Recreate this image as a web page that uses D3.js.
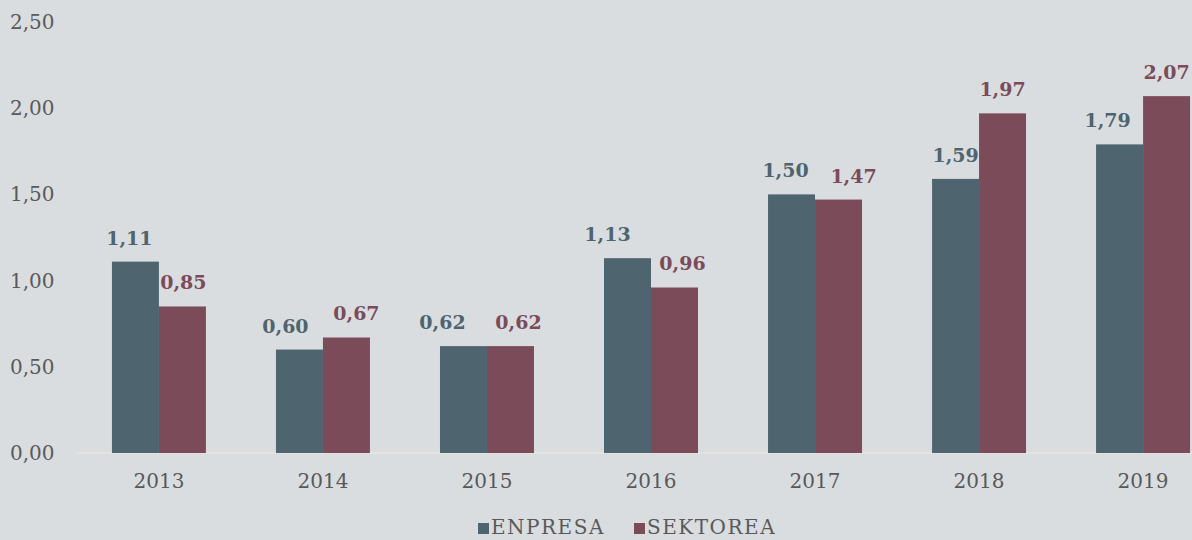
<!DOCTYPE html>
<html>
<head>
<meta charset="utf-8">
<script src="https://cdn.jsdelivr.net/npm/d3@7"></script>
<style>
  html, body { margin: 0; padding: 0; background: #dadde0; }
  svg { display: block; font-family: "DejaVu Serif", serif; }
</style>
</head>
<body>
<svg id="chart" width="1192" height="540"></svg>
<script>
"use strict";

//
// Data
//

var years = ["2013", "2014", "2015", "2016", "2017", "2018", "2019"];
var enpresa = [1.11, 0.60, 0.62, 1.13, 1.50, 1.59, 1.79];
var sektorea = [0.85, 0.67, 0.62, 0.96, 1.47, 1.97, 2.07];
var seriesNames = ["ENPRESA", "SEKTOREA"];
var yTicks = [0, 0.5, 1, 1.5, 2, 2.5];

var colors = ["#4e646e", "#7b4b59"];

var svg = d3.select("#chart");

var x = d3.scaleBand()
    .domain(years)
    .range([77, 1225])
    .paddingInner(0.427)
    .paddingOuter(0.213);

var y = d3.scaleLinear()
    .domain([0, 2.5])
    .range([453, 22]);

var fmt = function (v) { return d3.format(".2f")(v).replace(".", ","); };

// baseline
svg.append("line")
    .attr("x1", 76).attr("x2", 1192)
    .attr("y1", y(0)).attr("y2", y(0))
    .style("stroke", "#e8e4e1")
    .style("stroke-width", 1.5);

// y tick labels
svg.selectAll(".ytick")
    .data(yTicks)
    .enter().append("text")
    .attr("class", "ytick")
    .attr("x", 10)
    .attr("y", function (d) { return y(d); })
    .attr("dy", "0.35em")
    .style("font-size", "20px")
    .style("fill", "#595959")
    .text(fmt);

// x labels
svg.selectAll(".xtick")
    .data(years)
    .enter().append("text")
    .attr("class", "xtick")
    .attr("x", function (d) { return x(d) + x.bandwidth() / 2; })
    .attr("y", 481)
    .attr("dy", "0.35em")
    .attr("text-anchor", "middle")
    .style("font-size", "20px")
    .style("fill", "#595959")
    .text(function (d) { return d; });

var series = [enpresa, sektorea];
var bw = x.bandwidth() / 2;

// label nudges so neighbouring value labels do not crowd
var nudges = [
    [-6, -14, -21, -20, -6, 0, -12],
    [1, 10, 8, 8, 15, 0, 0]
];

series.forEach(function (vals, s) {

    var g = svg.append("g");

    g.selectAll("rect")
        .data(vals)
        .enter().append("rect")
        .attr("x", function (d, i) { return x(years[i]) + s * bw; })
        .attr("y", function (d) { return y(d); })
        .attr("width", bw)
        .attr("height", function (d) { return y(0) - y(d); })
        .style("fill", colors[s]);

    g.selectAll("text")
        .data(vals)
        .enter().append("text")
        .attr("x", function (d, i) { return x(years[i]) + s * bw + bw / 2 + nudges[s][i]; })
        .attr("y", function (d) { return y(d) - 17; })
        .attr("text-anchor", "middle")
        .style("font-size", "19px")
        .style("font-weight", "bold")
        .style("fill", colors[s])
        .text(fmt);
});

// legend
var legendX = [478, 634];
var legend = svg.selectAll(".legend")
    .data(seriesNames)
    .enter().append("g")
    .attr("class", "legend")
    .attr("transform", function (d, i) { return "translate(" + legendX[i] + ",534)"; });

legend.append("rect")
    .attr("x", 0).attr("y", -11)
    .attr("width", 11).attr("height", 11)
    .style("fill", function (d, i) { return colors[i]; });

legend.append("text")
    .attr("x", 13)
    .attr("y", 0)
    .style("font-size", "20px")
    .style("letter-spacing", "1.5px")
    .style("fill", "#595959")
    .text(function (d) { return d; });
</script>
</body>
</html>
